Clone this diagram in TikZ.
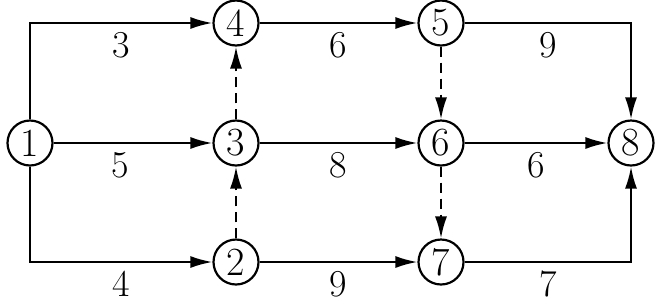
\documentclass[tikz,border=0pt]{standalone}
\usetikzlibrary{arrows.meta,positioning}

\begin{document}
\begin{tikzpicture}[x=0.5pt,y=0.5pt,
  ev/.style={circle,draw,line width=1.1pt,minimum size=22.5pt,inner sep=0pt,font=\fontsize{20}{20}\selectfont},
  act/.style={line width=1.1pt,-{Latex[length=11pt,width=6pt]}},
  dum/.style={act,dash pattern=on 5pt off 3pt},
  wt/.style={font=\fontsize{19}{19}\selectfont,inner sep=0pt,below=4pt}]
  \useasboundingbox (0,0) rectangle (672,302);
  % events
  \node[ev] (n1) at (30,159) {1};
  \node[ev] (n4) at (236,279) {4};
  \node[ev] (n3) at (236,159) {3};
  \node[ev] (n2) at (236,40) {2};
  \node[ev] (n5) at (441,279) {5};
  \node[ev] (n6) at (441,159) {6};
  \node[ev] (n7) at (441,40) {7};
  \node[ev] (n8) at (631,159) {8};
  % activities
  \draw[act] (n1) |- node[pos=0.75,wt] {3} (n4);
  \draw[act] (n1) -- node[pos=0.42,wt] {5} (n3);
  \draw[act] (n1) |- node[pos=0.75,wt] {4} (n2);
  \draw[act] (n4) -- node[wt] {6} (n5);
  \draw[act] (n3) -- node[wt] {8} (n6);
  \draw[act] (n2) -- node[wt] {9} (n7);
  \draw[act] (n5) -| node[pos=0.25,wt] {9} (n8);
  \draw[act] (n6) -- node[wt] {6} (n8);
  \draw[act] (n7) -| node[pos=0.25,wt] {7} (n8);
  % dummies
  \draw[dum] (n3) -- (n4);
  \draw[dum] (n2) -- (n3);
  \draw[dum] (n5) -- (n6);
  \draw[dum] (n6) -- (n7);
\end{tikzpicture}
\end{document}
